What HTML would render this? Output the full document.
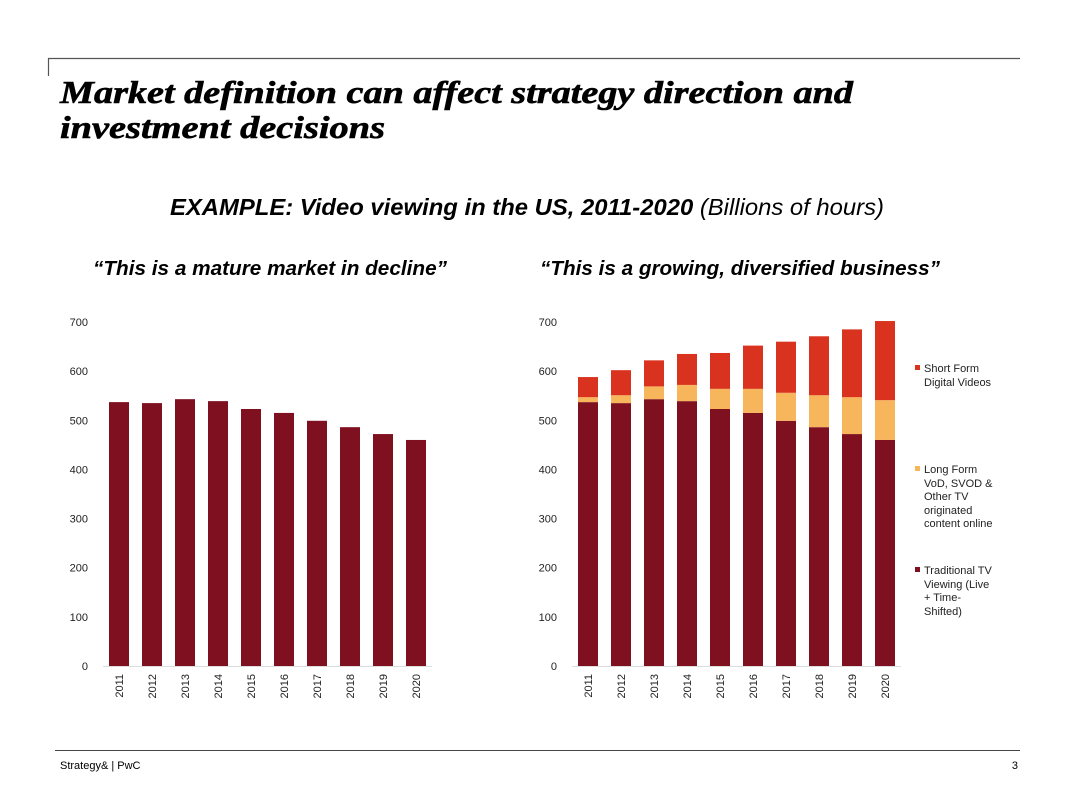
<!DOCTYPE html>
<html><head><meta charset="utf-8">
<style>
html,body{margin:0;padding:0;background:#fff;}
svg{display:block;}
.t{font-family:"Liberation Sans",sans-serif;}
</style></head>
<body>
<svg id="s" width="1080" height="810" viewBox="0 0 1080 810" xmlns="http://www.w3.org/2000/svg">
<line x1="48" y1="58.5" x2="1020" y2="58.5" stroke="#555" stroke-width="1.2"/>
<line x1="48.5" y1="58" x2="48.5" y2="76" stroke="#555" stroke-width="1.2"/>
<text x="60" y="103" font-family="'Liberation Serif',serif" font-weight="bold" font-style="italic" font-size="32" stroke="#000" stroke-width="0.6" textLength="793" lengthAdjust="spacingAndGlyphs">Market definition can affect strategy direction and</text>
<text x="60" y="138" font-family="'Liberation Serif',serif" font-weight="bold" font-style="italic" font-size="32" stroke="#000" stroke-width="0.6" textLength="325" lengthAdjust="spacingAndGlyphs">investment decisions</text>
<text class="t" x="527" y="215" text-anchor="middle" font-size="23" font-style="italic" textLength="714" lengthAdjust="spacingAndGlyphs"><tspan font-weight="bold">EXAMPLE: Video viewing in the US, 2011-2020</tspan> (Billions of hours)</text>
<text class="t" x="270" y="275" text-anchor="middle" font-size="20.5" font-weight="bold" font-style="italic" textLength="354" lengthAdjust="spacingAndGlyphs">“This is a mature market in decline”</text>
<text class="t" x="740" y="275" text-anchor="middle" font-size="20.5" font-weight="bold" font-style="italic" textLength="400" lengthAdjust="spacingAndGlyphs">“This is a growing, diversified business”</text>
<g id="left"></g>
<g id="right"></g>
<g>
<rect x="915" y="365" width="5" height="5" fill="#d9321f"/>
<text class="t" font-size="11" fill="#222"><tspan x="924" y="372">Short Form</tspan><tspan x="924" y="386">Digital Videos</tspan></text>
<rect x="915" y="466" width="5" height="5" fill="#f7b55c"/>
<text class="t" font-size="11" fill="#222"><tspan x="924" y="473">Long Form</tspan><tspan x="924" y="487">VoD, SVOD &amp;</tspan><tspan x="924" y="500">Other TV</tspan><tspan x="924" y="514">originated</tspan><tspan x="924" y="527">content online</tspan></text>
<rect x="915" y="567" width="5" height="5" fill="#7f1020"/>
<text class="t" font-size="11" fill="#222"><tspan x="924" y="574">Traditional TV</tspan><tspan x="924" y="588">Viewing (Live</tspan><tspan x="924" y="601">+ Time-</tspan><tspan x="924" y="615">Shifted)</tspan></text>
</g>
<line x1="55" y1="750.5" x2="1020" y2="750.5" stroke="#444" stroke-width="1"/>
<text class="t" x="60" y="769" font-size="11">Strategy&amp; | PwC</text>
<text class="t" x="1018" y="769" font-size="11" text-anchor="end">3</text>
</svg>
<script>
const years = ["2011","2012","2013","2014","2015","2016","2017","2018","2019","2020"];
const traditional = [537,535,543,539,523,515,499,486,472,460];
const longForm = [10,16,26,33,41,49,57,65,75,81];
const shortForm = [41,51,53,63,73,88,104,120,138,161];
const yTicks = [0,100,200,300,400,500,600,700];

const NS = "http://www.w3.org/2000/svg";
const y0 = 666, pxPer = 0.4914;
function yS(v){ return y0 - v*pxPer; }
function mk(tag, attrs, parent){
  const e = document.createElementNS(NS, tag);
  for (const k in attrs) e.setAttribute(k, attrs[k]);
  parent.appendChild(e); return e;
}
function drawChart(g, xStart, labelX, stacked){
  const step = 33, bw = 20;
  function xS(i){ return xStart + i*step; }
  yTicks.forEach(t => {
    const tx = mk("text", {x: labelX, y: yS(t)+4, "text-anchor":"end", "font-size":11, "font-family":"Liberation Sans, sans-serif", fill:"#222"}, g);
    tx.textContent = t;
    
    
  });
  const ax = mk("line", {x1: xStart-6, x2: xS(years.length-1)+bw+6, y1: y0+0.5, y2: y0+0.5, stroke:"#ddd", "stroke-width":1}, g);
  
  
  years.forEach((yr, i) => {
    const x = xS(i);
    let base = 0;
    const segs = stacked ? [[traditional[i],"#7f1020","bar-traditional"],[longForm[i],"#f7b55c","bar-long-form"],[shortForm[i],"#d9321f","bar-short-form"]] : [[traditional[i],"#7f1020","bar-viewing"]];
    segs.forEach(s => {
      const r = mk("rect", {x: x, y: yS(base+s[0]), width: bw, height: s[0]*pxPer, fill: s[1]}, g);
      
      
      base += s[0];
    });
    const lx = x + bw/2 + 4, ly = y0 + 8;
    const t = mk("text", {x: lx, y: ly, transform: "rotate(-90 "+lx+" "+ly+")", "text-anchor":"end", "font-size":11, "font-family":"Liberation Sans, sans-serif", fill:"#222"}, g);
    t.textContent = yr;
    
    
  });
}
drawChart(document.getElementById("left"), 109, 88, false);
drawChart(document.getElementById("right"), 578, 557, true);
</script>
</body></html>
